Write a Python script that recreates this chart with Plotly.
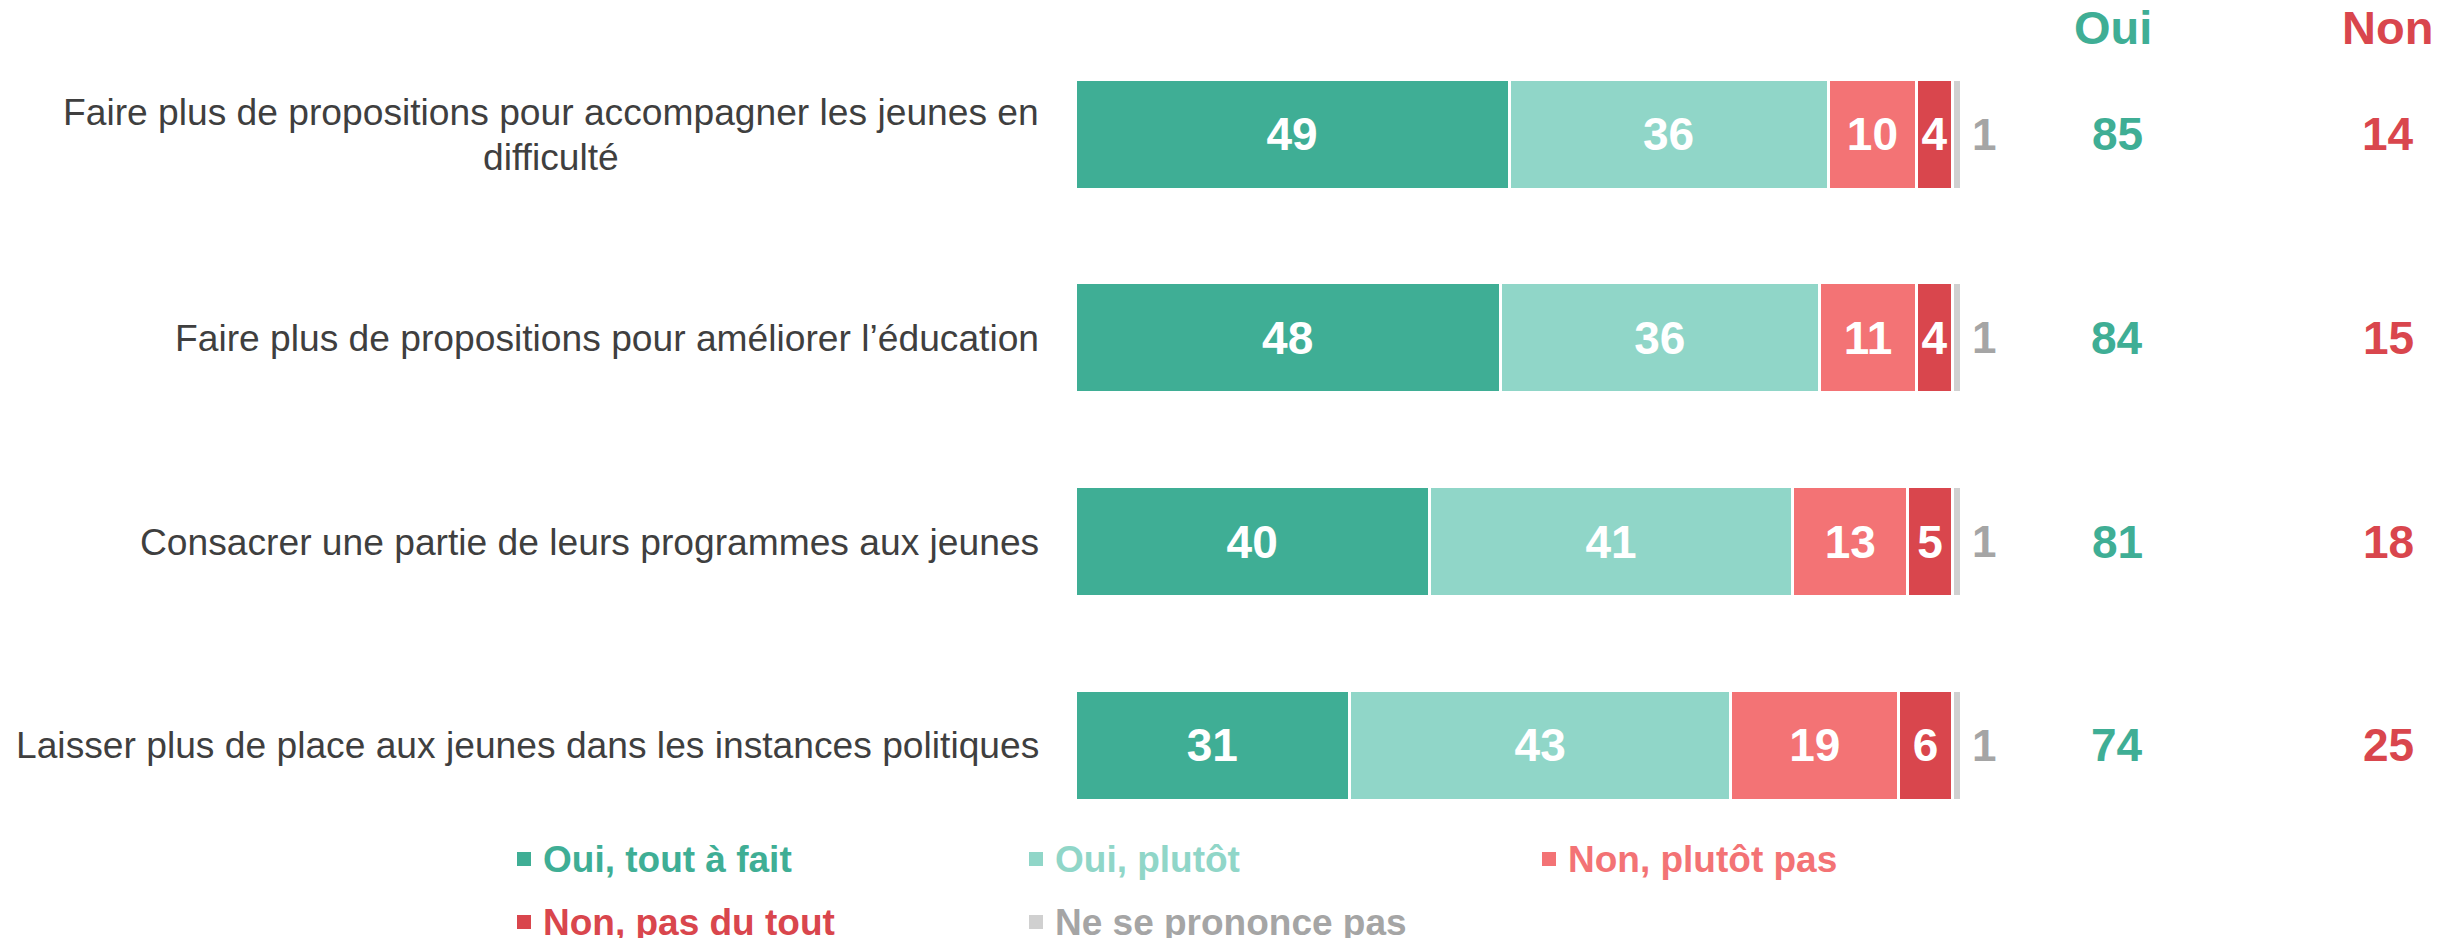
import plotly.graph_objects as go

# ---- data ----
categories = [
    "Faire plus de propositions pour accompagner les jeunes en difficulté",
    "Faire plus de propositions pour améliorer l’éducation",
    "Consacrer une partie de leurs programmes aux jeunes",
    "Laisser plus de place aux jeunes dans les instances politiques",
]
series_names = ["Oui, tout à fait", "Oui, plutôt", "Non, plutôt pas", "Non, pas du tout", "Ne se prononce pas"]
oui_tout_a_fait = [49, 48, 40, 31]
oui_plutot = [36, 36, 41, 43]
non_plutot_pas = [10, 11, 13, 19]
non_pas_du_tout = [4, 4, 5, 6]
ne_se_prononce_pas = [1, 1, 1, 1]
total_oui = [85, 84, 81, 74]
total_non = [14, 15, 18, 25]

# ---- style ----
OFF = 8  # browser default body margin
W, H = 2455 - OFF, 938 - OFF
FONT = "Arial, 'Liberation Sans', sans-serif"
C_TEAL = "#3FAE95"
C_LTEAL = "#90D6C8"
C_SALMON = "#F37375"
C_RED = "#D9464D"
C_GRAY_BAR = "#D0D0D0"
C_GRAY_TXT = "#A5A5A5"
C_LABEL = "#3F3F3F"
LABEL_SIZE = 37.2

bar_colors = [C_TEAL, C_LTEAL, C_SALMON, C_RED, C_GRAY_BAR]
legend_text_colors = [C_TEAL, C_LTEAL, C_SALMON, C_RED, C_GRAY_TXT]
values = [oui_tout_a_fait, oui_plutot, non_plutot_pas, non_pas_du_tout, ne_se_prononce_pas]


def px_x(p):
    return (p - OFF) / W


def px_y(p):
    return 1 - (p - OFF) / H


# pixel geometry (screen px)
x0_px, px_per_unit = 1075.0, 8.86
row0_px, row_step_px = 134.3, 203.6

ypos = list(range(len(categories)))

fig = go.Figure()
for i, (name, vals, col) in enumerate(zip(series_names, values, bar_colors)):
    last = i == len(series_names) - 1
    fig.add_trace(go.Bar(
        y=ypos, x=vals, orientation="h", name=name,
        width=0.54,
        marker=dict(color=col, line=dict(color="white", width=3)),
        text=None if last else [str(v) for v in vals],
        textposition="inside",
        insidetextanchor="middle",
        textangle=0,
        constraintext="none",
        textfont=dict(family=FONT, size=46, color="white", weight="bold"),
        hoverinfo="skip",
        showlegend=False,
    ))

annotations = []
# gray "ne se prononce pas" labels just right of each bar
row_totals = [sum(v[i] for v in values) for i in ypos]
for i in ypos:
    annotations.append(dict(
        x=row_totals[i], xref="x", y=i, yref="y", xshift=9,
        text=f"<b>{ne_se_prononce_pas[i]}</b>", showarrow=False, xanchor="left", yanchor="middle",
        font=dict(family=FONT, size=44, color=C_GRAY_TXT),
    ))

# category labels
first_words = categories[0].rsplit(" ", 1)
annotations.append(dict(x=px_x(1041), xref="paper", y=px_y(112), yref="paper",
                        text=first_words[0], showarrow=False, xanchor="right", yanchor="middle",
                        font=dict(family=FONT, size=LABEL_SIZE, color=C_LABEL)))
annotations.append(dict(x=px_x(551), xref="paper", y=px_y(157), yref="paper",
                        text=first_words[1], showarrow=False, xanchor="center", yanchor="middle",
                        font=dict(family=FONT, size=LABEL_SIZE, color=C_LABEL)))
for i, cat in enumerate(categories[1:], start=1):
    annotations.append(dict(
        x=px_x(1041), xref="paper", y=i, yref="y",
        text=cat, showarrow=False, xanchor="right", yanchor="middle", align="center",
        font=dict(family=FONT, size=LABEL_SIZE, color=C_LABEL),
    ))
# Oui / Non headers
annotations.append(dict(x=px_x(2113), xref="paper", y=px_y(28), yref="paper", text="<b>Oui</b>",
                        showarrow=False, xanchor="center", yanchor="middle",
                        font=dict(family=FONT, size=47, color=C_TEAL)))
annotations.append(dict(x=px_x(2387), xref="paper", y=px_y(28), yref="paper", text="<b>Non</b>",
                        showarrow=False, xanchor="center", yanchor="middle",
                        font=dict(family=FONT, size=47, color=C_RED)))
for i in ypos:
    annotations.append(dict(x=px_x(2117), xref="paper", y=i, yref="y", text=f"<b>{total_oui[i]}</b>",
                            showarrow=False, xanchor="center", yanchor="middle",
                            font=dict(family=FONT, size=46, color=C_TEAL)))
    annotations.append(dict(x=px_x(2388), xref="paper", y=i, yref="y", text=f"<b>{total_non[i]}</b>",
                            showarrow=False, xanchor="center", yanchor="middle",
                            font=dict(family=FONT, size=46, color=C_RED)))

# custom legend
legend_cols_px = [517, 1029, 1542]
legend_rows_px = [859, 922]
shapes = []
for k, name in enumerate(series_names):
    cx = legend_cols_px[k % 3]
    cy = legend_rows_px[k // 3]
    shapes.append(dict(type="rect", xref="paper", yref="paper",
                       x0=px_x(cx), x1=px_x(cx + 14), y0=px_y(cy + 7), y1=px_y(cy - 7),
                       fillcolor=bar_colors[k], line=dict(width=0)))
    annotations.append(dict(x=px_x(cx + 24), xref="paper", y=px_y(cy), yref="paper",
                            text=f"<b>{name}</b>", showarrow=False, xanchor="left", yanchor="middle",
                            font=dict(family=FONT, size=37, color=legend_text_colors[k])))

xmin = -(x0_px - OFF) / px_per_unit
xmax = (W - (x0_px - OFF)) / px_per_unit
ytop = -(row0_px - OFF) / row_step_px
ybot = (H - (row0_px - OFF)) / row_step_px

fig.update_layout(
    width=W, height=H,
    margin=dict(l=0, r=0, t=0, b=0),
    barmode="stack",
    paper_bgcolor="white", plot_bgcolor="white",
    xaxis=dict(range=[xmin, xmax], visible=False, fixedrange=True),
    yaxis=dict(range=[ybot, ytop], visible=False, fixedrange=True),
    annotations=annotations,
    shapes=shapes,
    showlegend=False,
    font=dict(family=FONT),
)

fig.write_html("out.html", config={"displayModeBar": False})
